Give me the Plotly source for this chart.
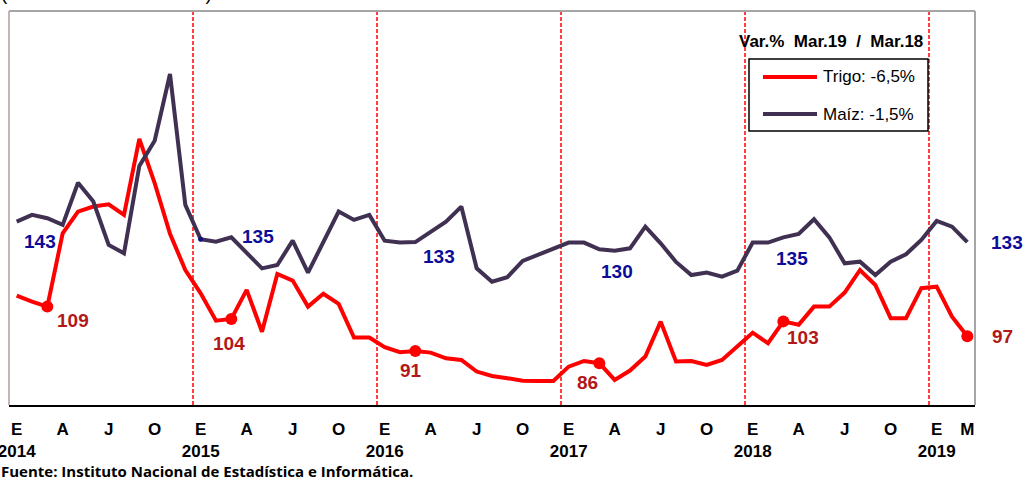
import plotly.graph_objects as go

# ---------------- data ----------------
years = [2014, 2015, 2016, 2017, 2018, 2019]
month_letters = ["E", "F", "M", "A", "M", "J", "J", "A", "S", "O", "N", "D"]
n_months = 63  # Ene.2014 - Mar.2019

trigo = [113.5, 111.0, 109, 138.8, 147.6, 149.7, 150.6, 146.3, 177.2, 159.2, 138.6, 123.9,
         114.4, 103.3, 104, 115.8, 98.8, 122.3, 119.6, 109.0, 114.2, 110.1, 96.4, 96.4,
         92.5, 90.5, 91, 90.3, 88.0, 87.3, 82.6, 80.8, 79.9, 78.9, 78.8, 78.8,
         84.6, 86.9, 86, 79.2, 83.0, 88.7, 102.9, 86.7, 86.9, 85.3, 87.3, 92.7,
         98.4, 94.1, 103, 101.6, 109, 109, 114.7, 123.9, 117.8, 104.3, 104.3, 116.5,
         117.1, 104.9, 97]

maiz = [141.6, 144.4, 143, 140.2, 157.9, 150.0, 131.8, 128.3, 164.9, 175.5, 203.5, 148.6,
        134.2, 133.2, 135, 128.3, 122.0, 123.4, 133.6, 120.2, 133.1, 145.8, 142.3, 144.4,
        133.6, 132.8, 133, 137.4, 141.6, 147.9, 122.0, 116.4, 118.3, 125.1, 127.6, 130.0,
        132.8, 132.8, 130, 129.4, 130.4, 139.5, 132.5, 124.7, 119.2, 120.2, 118.5, 121.0,
        132.8, 132.8, 135, 136.4, 142.6, 135.0, 124.1, 124.8, 119.2, 124.8, 127.9, 133.9,
        141.9, 139.5, 133]

label_idx = [2, 14, 26, 38, 50, 62]  # marzo de cada año

legend_trigo = "Trigo: -6,5%"
legend_maiz = "Maíz: -1,5%"
var_title = "Var.%  Mar.19  /  Mar.18"
source = "Fuente: Instituto Nacional de Estadística e Informática."
top_note = "(Índice base 2010 = 100)"

# ---------------- derived ----------------
x = list(range(n_months))
month_of = [month_letters[i % 12] for i in x]
year_of = [years[i // 12] for i in x]

tickvals, ticktext = [], []
for i in x:
    if i % 3 == 0 or i == n_months - 1:
        tickvals.append(i)
        if i % 12 == 0:
            ticktext.append(f"{month_of[i]}<br>{year_of[i]}")
        else:
            ticktext.append(month_of[i])

RED = "#ff0000"
PURPLE = "#403152"
LBL_RED = "#b21818"
LBL_BLUE = "#0c0c99"
FONT = "Liberation Sans, Arial, sans-serif"

W, H = 1027, 481
ML, MR, MT, MB = 9, 52, 11, 76
PW, PH = W - ML - MR, H - MT - MB


def px(xp):
    return (xp - ML) / PW


def py(yp):
    return 1 - (yp - MT) / PH


fig = go.Figure()
fig.add_trace(go.Scatter(x=x, y=trigo, mode="lines", name=legend_trigo,
                         line=dict(color=RED, width=4)))
fig.add_trace(go.Scatter(x=x, y=maiz, mode="lines", name=legend_maiz, yaxis="y2",
                         line=dict(color=PURPLE, width=4)))
fig.add_trace(go.Scatter(x=label_idx, y=[trigo[i] for i in label_idx], mode="markers",
                         marker=dict(color=RED, size=12), showlegend=False))
fig.add_trace(go.Scatter(x=[12], y=[maiz[12]], mode="markers", yaxis="y2",
                         marker=dict(color="#101080", size=5), showlegend=False))

# value labels (offsets in px, dy positive = down)
off_t = [(26, 14), (-2, 25), (-4, 20), (-12, 19), (20, 16), (35, 0)]
off_m = [(-7, 23), (27, -1), (24, 14), (18, 22), (9, 21), (40, 0)]
ann = []
for i, (dx, dy) in zip(label_idx, off_t):
    ann.append(dict(x=i, y=trigo[i], xref="x", yref="y", text=f"{round(trigo[i])}",
                    showarrow=False, xshift=dx, yshift=-dy,
                    font=dict(family=FONT, size=19, color=LBL_RED, weight="bold")))
for i, (dx, dy) in zip(label_idx, off_m):
    ann.append(dict(x=i, y=maiz[i], xref="x", yref="y2", text=f"{round(maiz[i])}",
                    showarrow=False, xshift=dx, yshift=-dy,
                    font=dict(family=FONT, size=19, color=LBL_BLUE, weight="bold")))

ann.append(dict(x=px(831), y=py(42), xref="paper", yref="paper", text=var_title,
                showarrow=False, xanchor="center", yanchor="middle",
                font=dict(family=FONT, size=17, color="black", weight="bold")))
ann.append(dict(x=px(-1), y=py(471), xref="paper", yref="paper", text=source,
                showarrow=False, xanchor="left", yanchor="middle",
                font=dict(family="Open Sans, sans-serif", size=15, color="black",
                          weight="bold")))
ann.append(dict(x=px(-1), y=py(6), xref="paper", yref="paper", text=top_note,
                showarrow=False, xanchor="left", yanchor="bottom",
                font=dict(family=FONT, size=19, color="black")))

# legend (drawn box with samples)
ann.append(dict(x=px(821), y=py(77), xref="paper", yref="paper", text=legend_trigo,
                showarrow=False, xanchor="left", yanchor="middle",
                font=dict(family=FONT, size=17, color="black")))
ann.append(dict(x=px(821), y=py(114), xref="paper", yref="paper", text=legend_maiz,
                showarrow=False, xanchor="left", yanchor="middle",
                font=dict(family=FONT, size=17, color="black")))

shapes = []
# vertical dashed lines between Dec and Jan
for i in x:
    if i % 12 == 0:
        shapes.append(dict(type="line", xref="x", yref="paper", x0=i - 0.5, x1=i - 0.5,
                           y0=0, y1=1, layer="below",
                           line=dict(color=RED, width=1.5, dash="4px,2px")))
# frame (top, left, right)
GRAY = "#a6a6a6"
shapes.append(dict(type="line", xref="paper", yref="paper", x0=0, x1=1, y0=1, y1=1,
                   line=dict(color=GRAY, width=2)))
shapes.append(dict(type="line", xref="paper", yref="paper", x0=1, x1=1, y0=0, y1=1,
                   line=dict(color=GRAY, width=2)))
shapes.append(dict(type="line", xref="paper", yref="paper", x0=0, x1=0, y0=0, y1=1,
                   layer="below", line=dict(color="#c9b4b4", width=2)))
# legend box and samples
shapes.append(dict(type="rect", xref="paper", yref="paper", x0=px(749), x1=px(928),
                   y0=py(131), y1=py(59), fillcolor="white",
                   line=dict(color="black", width=1.5)))
shapes.append(dict(type="line", xref="paper", yref="paper", x0=px(763), x1=px(817),
                   y0=py(77), y1=py(77), line=dict(color=RED, width=4)))
shapes.append(dict(type="line", xref="paper", yref="paper", x0=px(763), x1=px(817),
                   y0=py(114), y1=py(114), line=dict(color=PURPLE, width=4)))

fig.update_layout(
    width=W, height=H,
    margin=dict(l=ML, r=MR, t=MT, b=MB, pad=0, autoexpand=False),
    paper_bgcolor="white", plot_bgcolor="white",
    showlegend=False,
    xaxis=dict(range=[-0.5, 62.5], tickmode="array", tickvals=tickvals, ticktext=ticktext,
               showgrid=False, zeroline=False, showline=True, linecolor="black", linewidth=1.5,
               ticks="", ticklabelstandoff=8, automargin=False, ticklabeloverflow="allow",
               tickfont=dict(family=FONT, size=17, color="black", weight="bold")),
    yaxis=dict(range=[69.0, 229.2], visible=False, showgrid=False, zeroline=False,
               automargin=False),
    yaxis2=dict(range=[64.7, 229.9], overlaying="y", visible=False, showgrid=False,
                zeroline=False, automargin=False),
    annotations=ann,
    shapes=shapes,
)

fig.write_html("out.html", config={"displayModeBar": False},
               post_script="document.body.style.margin='0px';document.body.style.overflow='hidden';")
